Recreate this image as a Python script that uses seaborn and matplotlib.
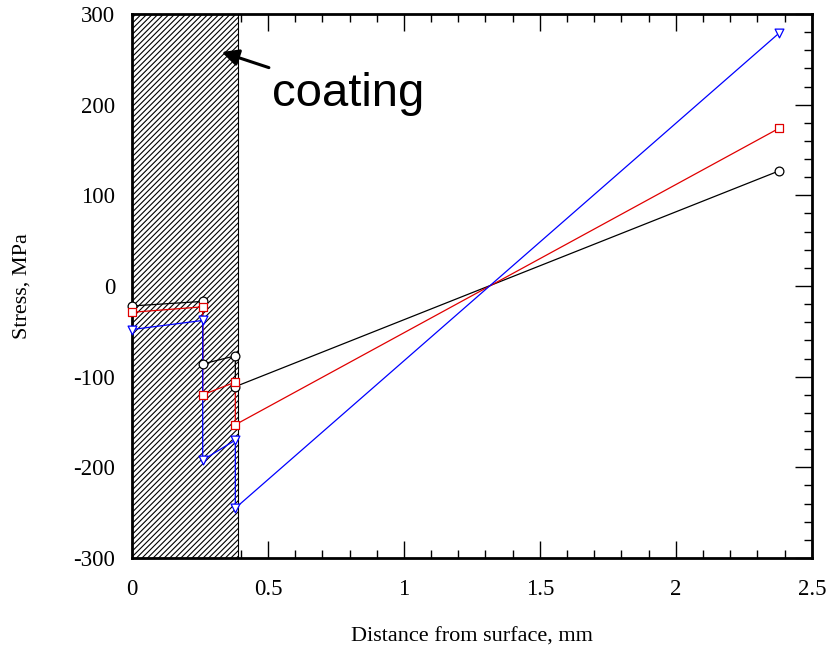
import matplotlib
matplotlib.use("Agg")
import matplotlib.pyplot as plt
from matplotlib.patches import Rectangle
from matplotlib.ticker import MultipleLocator
import seaborn as sns
import pandas as pd

# depth profile, mm (points at layer interfaces repeated)
depth = [0.0, 0.26, 0.26, 0.38, 0.38, 2.38]
stress_black = [-22, -17, -86, -77, -111, 127]
stress_red = [-29, -23, -120, -106, -153, 174]
stress_blue = [-48, -38, -192, -170, -245, 279]
series_names = ["black", "red", "blue"]
series_colors = ["black", "#e00000", "#0000ff"]
series_markers = ["o", "s", "v"]
coating_thickness = 0.39

rows = []
for name, vals in zip(series_names, [stress_black, stress_red, stress_blue]):
    for i, (d, s) in enumerate(zip(depth, vals)):
        rows.append({"series": name, "order": i, "depth": d, "stress": s})
df = pd.DataFrame(rows)

sns.set_style("ticks", {"axes.edgecolor": "black", "text.color": "black",
                        "axes.labelcolor": "black", "xtick.color": "black",
                        "ytick.color": "black"})
plt.rcParams["font.family"] = ["Liberation Serif", "DejaVu Serif"]
plt.rcParams["hatch.linewidth"] = 0.8

fig = plt.figure(figsize=(8.26, 6.54), dpi=100)
ax = fig.add_axes([0.1598, 0.1468, 0.823, 0.8318])

# coating region
ax.add_patch(Rectangle((0, -300), coating_thickness, 600, facecolor="white",
                       edgecolor="black", hatch="//////", linewidth=0.8, zorder=1))

palette = dict(zip(series_names, series_colors))

# connecting lines
sns.lineplot(data=df, x="depth", y="stress", hue="series",
             hue_order=series_names, palette=palette,
             sort=False, estimator=None, legend=False,
             linewidth=0.9, ax=ax, zorder=3)

# open markers on top
for name, mk, c in zip(series_names, series_markers, series_colors):
    sub = df[df["series"] == name]
    sns.scatterplot(data=sub, x="depth", y="stress", marker=mk, s=40,
                    facecolor="white", edgecolor=c, linewidth=0.9,
                    legend=False, ax=ax, zorder=4, clip_on=False)

ax.set_xlim(0, 2.5)
ax.set_ylim(-300, 300)
ax.xaxis.set_major_locator(MultipleLocator(0.5))
ax.xaxis.set_minor_locator(MultipleLocator(0.1))
ax.yaxis.set_major_locator(MultipleLocator(100))
ax.yaxis.set_minor_locator(MultipleLocator(20))
ax.set_xticks([0, 0.5, 1, 1.5, 2, 2.5])
ax.set_xticklabels(["0", "0.5", "1", "1.5", "2", "2.5"])
ax.set_yticks([-300, -200, -100, 0, 100, 200, 300])
ax.set_yticklabels(["-300", "-200", "-100", "0", "100", "200", "300"])
ax.tick_params(which="both", direction="in", top=True, right=True,
               labelsize=16.5, width=1, colors="black")
ax.tick_params(axis="x", pad=15)
ax.tick_params(axis="y", pad=12)
ax.tick_params(which="major", length=12)
ax.tick_params(which="minor", length=6)
for sp in ax.spines.values():
    sp.set_linewidth(2)
    sp.set_visible(True)
    sp.set_color("black")

ax.set_xlabel("Distance from surface, mm", fontsize=16, labelpad=20)
ax.set_ylabel("Stress, MPa", fontsize=16, labelpad=30)

ax.annotate("coating", xy=(0.33, 258), xytext=(0.515, 212),
            fontsize=34, family=["Liberation Sans", "DejaVu Sans"],
            va="center", ha="left", color="black",
            arrowprops=dict(arrowstyle="-|>", color="black", lw=2.2,
                            mutation_scale=25, shrinkA=2, shrinkB=0))

fig.savefig("out.png", dpi=100)
